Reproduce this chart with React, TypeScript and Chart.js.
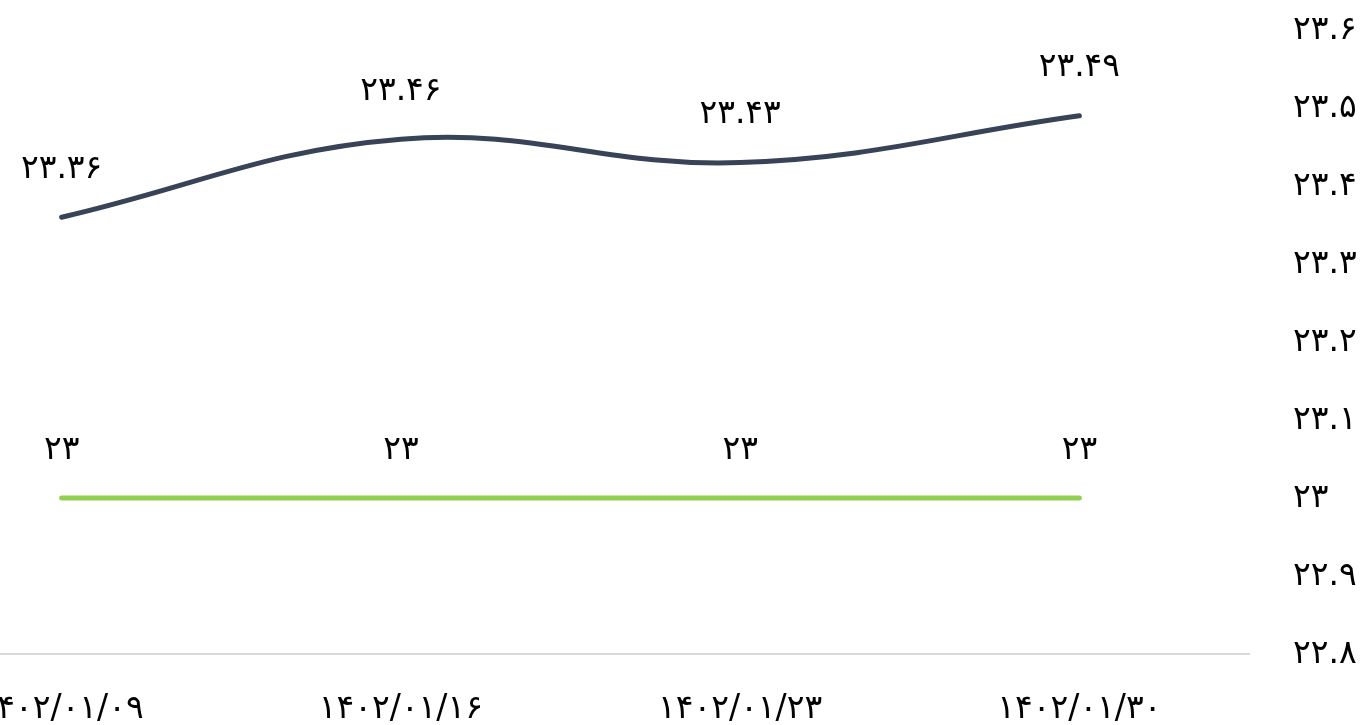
import React, { useEffect, useRef } from "react";
import { Chart, registerables } from "chart.js";

Chart.register(...registerables);

// ---- data ----
const categories = ["1402/01/09", "1402/01/16", "1402/01/23", "1402/01/30"];
const darkSeries = [23.36, 23.46, 23.43, 23.49];
const greenSeries = [23, 23, 23, 23];
const yTickValues = [22.8, 22.9, 23, 23.1, 23.2, 23.3, 23.4, 23.5, 23.6];

const FONT_FAMILY = '"DejaVu Sans", sans-serif';
const FONT_SIZE = 33;

const toFa = (s: string) =>
  s.replace(/[0-9]/g, (d) => String.fromCharCode(0x06f0 + Number(d)));
const fmt = (v: number) => toFa(String(Math.round(v * 100) / 100));

const dataLabels = {
  id: "dataLabels",
  afterDatasetsDraw(chart: any) {
    const ctx = chart.ctx;
    ctx.save();
    ctx.font = `${FONT_SIZE}px ${FONT_FAMILY}`;
    ctx.fillStyle = "#000";
    ctx.textAlign = "center";
    ctx.textBaseline = "middle";
    chart.data.datasets.forEach((ds: any, i: number) => {
      const meta = chart.getDatasetMeta(i);
      meta.data.forEach((pt: any, j: number) => {
        ctx.fillText(fmt(ds.data[j]), pt.x, pt.y - 48);
      });
    });
    ctx.restore();
  },
};

export default function App() {
  const ref = useRef<HTMLCanvasElement | null>(null);

  useEffect(() => {
    if (!ref.current) return;
    const chart = new Chart(ref.current, {
      type: "line",
      data: {
        labels: categories,
        datasets: [
          {
            label: "a",
            data: darkSeries,
            borderColor: "#384358",
            backgroundColor: "#384358",
            borderWidth: 5,
            borderCapStyle: "round",
            tension: 0.4,
            pointRadius: 0,
            pointHoverRadius: 0,
          },
          {
            label: "b",
            data: greenSeries,
            borderColor: "#92D050",
            backgroundColor: "#92D050",
            borderWidth: 5,
            borderCapStyle: "round",
            tension: 0.4,
            pointRadius: 0,
            pointHoverRadius: 0,
          },
        ],
      },
      options: {
        responsive: false,
        animation: false,
        layout: { padding: { top: 30, left: 0, right: 0, bottom: 0 } },
        plugins: {
          legend: { display: false },
          tooltip: { enabled: false },
        },
        scales: {
          x: {
            offset: true,
            grid: { display: false, drawTicks: false },
            border: { display: true, color: "#d9d9d9", width: 2 },
            ticks: {
              color: "#000",
              font: { family: FONT_FAMILY, size: FONT_SIZE },
              padding: 36,
              maxRotation: 0,
              autoSkip: false,
              callback: (_v: any, i: number) => toFa(categories[i]),
            },
            afterFit: (scale: any) => {
              scale.height = 71;
            },
          },
          y: {
            position: "right",
            min: 22.8,
            max: 23.6,
            grid: { display: false, drawTicks: false },
            border: { display: false },
            afterBuildTicks: (scale: any) => {
              scale.ticks = yTickValues.map((v) => ({ value: v }));
            },
            ticks: {
              color: "#000",
              font: { family: FONT_FAMILY, size: FONT_SIZE },
              padding: 44,
              callback: (v: any) => fmt(Number(v)),
            },
            afterFit: (scale: any) => {
              scale.width = 122;
              scale.paddingTop = 0;
              scale.paddingBottom = 0;
            },
          },
        },
      },
      plugins: [dataLabels],
    });
    return () => chart.destroy();
  }, []);

  return (
    <div style={{ position: "absolute", left: -108, top: 0, width: 1479, height: 725, overflow: "hidden" }}>
      <canvas ref={ref} width={1479} height={725} style={{ display: "block" }} />
    </div>
  );
}
